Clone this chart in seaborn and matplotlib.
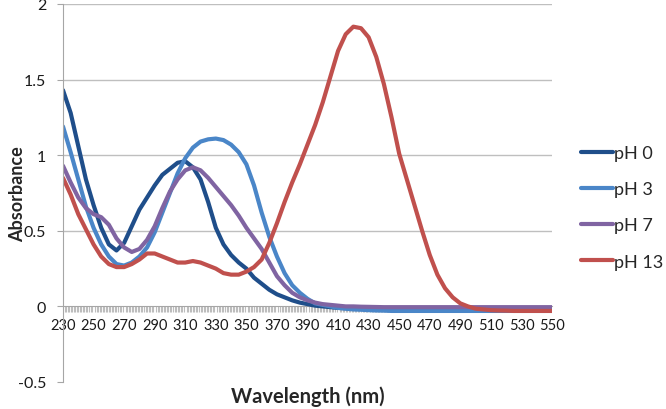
import numpy as np
import pandas as pd
import matplotlib
matplotlib.use("Agg")
import matplotlib.pyplot as plt
import seaborn as sns

# wavelength grid (nm), 5 nm steps
wavelength = list(range(230, 555, 5))

ph0 = [1.43, 1.28, 1.06, 0.84, 0.67, 0.52, 0.41, 0.37, 0.42, 0.53,
       0.64, 0.72, 0.80, 0.87, 0.91, 0.95, 0.96, 0.92, 0.84, 0.69,
       0.52, 0.41, 0.34, 0.29, 0.25, 0.19, 0.15, 0.11, 0.08, 0.06,
       0.04, 0.025, 0.015, 0.005, 0.0, -0.005, -0.01, -0.012, -0.014, -0.015,
       -0.016, -0.017, -0.018, -0.018, -0.019, -0.019, -0.02, -0.02, -0.02, -0.02,
       -0.02, -0.02, -0.02, -0.02, -0.02, -0.02, -0.02, -0.02, -0.02, -0.02,
       -0.02, -0.02, -0.02, -0.02, -0.02]

ph3 = [1.19, 1.02, 0.84, 0.66, 0.52, 0.41, 0.33, 0.28, 0.27, 0.29,
       0.33, 0.39, 0.49, 0.62, 0.75, 0.88, 0.98, 1.05, 1.09, 1.105,
       1.11, 1.10, 1.07, 1.02, 0.94, 0.80, 0.62, 0.46, 0.33, 0.22,
       0.14, 0.09, 0.05, 0.02, 0.01, 0.0, -0.01, -0.015, -0.02, -0.022,
       -0.025, -0.027, -0.028, -0.03, -0.03, -0.03, -0.03, -0.03, -0.03, -0.03,
       -0.03, -0.03, -0.03, -0.03, -0.03, -0.03, -0.03, -0.03, -0.03, -0.03,
       -0.03, -0.03, -0.03, -0.03, -0.03]

ph7 = [0.93, 0.82, 0.72, 0.65, 0.61, 0.59, 0.54, 0.45, 0.39, 0.36,
       0.38, 0.44, 0.53, 0.65, 0.76, 0.84, 0.90, 0.92, 0.90, 0.85,
       0.79, 0.73, 0.67, 0.60, 0.52, 0.45, 0.38, 0.29, 0.20, 0.14,
       0.09, 0.06, 0.04, 0.025, 0.015, 0.01, 0.005, 0.0, 0.0, -0.002,
       -0.003, -0.004, -0.005, -0.005, -0.005, -0.005, -0.005, -0.005, -0.005, -0.005,
       -0.005, -0.005, -0.005, -0.005, -0.005, -0.005, -0.005, -0.005, -0.005, -0.005,
       -0.005, -0.005, -0.005, -0.005, -0.005]

ph13 = [0.85, 0.74, 0.61, 0.51, 0.41, 0.33, 0.28, 0.26, 0.26, 0.28,
        0.31, 0.35, 0.35, 0.33, 0.31, 0.29, 0.29, 0.30, 0.29, 0.27,
        0.25, 0.22, 0.21, 0.21, 0.23, 0.26, 0.31, 0.42, 0.55, 0.69,
        0.82, 0.94, 1.07, 1.20, 1.35, 1.52, 1.69, 1.80, 1.85, 1.84,
        1.78, 1.65, 1.47, 1.25, 1.01, 0.84, 0.67, 0.50, 0.34, 0.21,
        0.12, 0.06, 0.02, 0.0, -0.015, -0.02, -0.025, -0.027, -0.028, -0.03,
        -0.03, -0.03, -0.03, -0.03, -0.03]

labels = ["pH 0", "pH 3", "pH 7", "pH 13"]
colors = ["#1F4E8A", "#4A86C8", "#8064A2", "#C0504D"]

df = pd.DataFrame({
    "wavelength": wavelength * 4,
    "absorbance": ph0 + ph3 + ph7 + ph13,
    "series": sum([[lab] * len(wavelength) for lab in labels], []),
})

sns.set_style("white")
plt.rcParams["font.family"] = ["Lato", "DejaVu Sans"]

fig = plt.figure(figsize=(6.66, 4.10), dpi=100)
ax = fig.add_axes([63 / 666, 1 - 383 / 410, (552 - 63) / 666, (383 - 5) / 410])

sns.lineplot(data=df, x="wavelength", y="absorbance", hue="series",
             hue_order=labels, palette=colors, linewidth=3.0, ax=ax,
             solid_joinstyle="round", solid_capstyle="round")

ax.set_xlim(230, 550)
ax.set_ylim(-0.5, 2)
ax.set_yticks([-0.5, 0, 0.5, 1, 1.5, 2])
ax.set_yticklabels(["-0.5", "0", "0.5", "1", "1.5", "2"])
ax.set_xticks(list(range(230, 551, 20)))
ax.set_xticks(list(range(230, 551, 1)), minor=True)

for y in [0.5, 1, 1.5, 2]:
    ax.axhline(y, color="#BFBFBF", lw=1.0, zorder=0)

ax.spines["top"].set_visible(False)
ax.spines["right"].set_visible(False)
ax.spines["bottom"].set_position(("data", 0))
ax.spines["bottom"].set_color("#A6A6A6")
ax.spines["left"].set_color("#A6A6A6")
ax.spines["bottom"].set_zorder(1)

ax.tick_params(axis="y", which="major", length=4, color="#A6A6A6",
               labelsize=11.5, pad=8, left=True, labelcolor="#1a1a1a")
ax.tick_params(axis="x", which="major", length=0, labelsize=10.5, pad=8,
               labelcolor="#1a1a1a")
ax.tick_params(axis="x", which="minor", length=4, width=0.8, color="#BDBDBD",
               bottom=True, direction="out")

ax.set_xlabel("Wavelength (nm)", fontsize=14.5, fontweight="bold")
ax.xaxis.set_label_coords(0.5, -0.01)
ax.set_ylabel("Absorbance", fontsize=13, fontweight="bold")
ax.yaxis.set_label_coords(-0.076, 0.5)

handles, labs = ax.get_legend_handles_labels()
ax.legend(handles, labs, loc="upper left", bbox_to_anchor=(581 / 666, 1 - 146 / 410),
          bbox_transform=fig.transFigure, frameon=False, fontsize=13,
          handlelength=1.75, handletextpad=0.1, labelspacing=1.12,
          borderpad=0, borderaxespad=0)

fig.savefig("out.png", dpi=100)
